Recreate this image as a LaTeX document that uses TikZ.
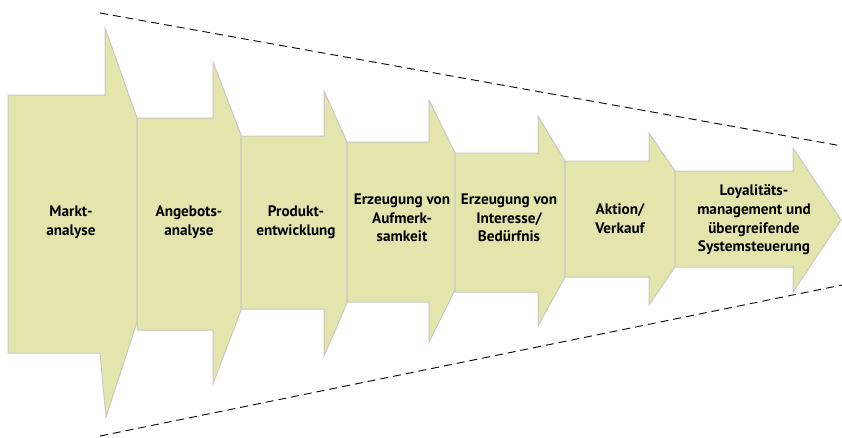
\documentclass[tikz,border=0pt]{standalone}
\usepackage{fontspec}
\setmainfont{PT Sans}
\begin{document}
\begin{tikzpicture}[x=1pt,y=-1pt,
  arrowshape/.style={fill=arrowfill,draw=arrowedge,line width=1pt,line join=miter},
  lbl/.style={font=\bfseries\fontsize{15.2}{18.7}\selectfont,align=center,text=black,inner sep=0pt},
  funnel/.style={draw=black,line width=0.9pt,dash pattern=on 8pt off 5pt}]
\definecolor{arrowfill}{HTML}{E3E5AD}
\definecolor{arrowedge}{HTML}{C9C9C4}
\useasboundingbox (0,0) rectangle (842,437);
% arrows: L,Tb,Bb,S,Ht,Hb,R,Rt,Rb
\draw[arrowshape] (8,95) -- (105,95) -- (105,28) -- (137,118) -- (137,322) -- (106,417) -- (100,353) -- (8,353) -- cycle;
\draw[arrowshape] (137,118) -- (213,118) -- (213,62) -- (241,135) -- (241,310) -- (213,384) -- (213,330) -- (137,330) -- cycle;
\draw[arrowshape] (241,136) -- (324,136) -- (324,91) -- (347,142) -- (347,303) -- (324,356) -- (324,309) -- (241,309) -- cycle;
\draw[arrowshape] (347,142) -- (429,142) -- (429,100) -- (455,153) -- (455,290) -- (429,342) -- (429,302) -- (347,302) -- cycle;
\draw[arrowshape] (455,153) -- (538,153) -- (538,116) -- (565,161) -- (565,277) -- (538,326) -- (538,292) -- (455,292) -- cycle;
\draw[arrowshape] (565,161) -- (649,161) -- (649,133) -- (675,171) -- (675,267) -- (649,305) -- (649,277) -- (565,277) -- cycle;
\draw[arrowshape] (675,171) -- (793,171) -- (793,148) -- (841,220) -- (793,292) -- (793,267) -- (675,267) -- cycle;
% labels
\node[lbl] (a1) at (71,222) {Markt-\\analyse};
\node[lbl] (a2) at (189,222) {Angebots-\\analyse};
\node[lbl] (a3) at (296,222) {Produkt-\\entwicklung};
\node[lbl] (a4) at (402,218) {Erzeugung von\\Aufmerk-\\samkeit};
\node[lbl] (a5) at (509,218) {Erzeugung von\\Interesse/\\Bedürfnis};
\node[lbl] (a6) at (620,219) {Aktion/\\Verkauf};
\node[lbl] (a7) at (754,220) {Loyalitäts-\\management und\\übergreifende\\Systemsteuerung};
% funnel lines
\coordinate (ftl) at (100,13);
\coordinate (ftr) at (842,146);
\coordinate (fbl) at (100,436);
\coordinate (fbr) at (842,285);
\draw[funnel] (ftl) -- (ftr);
\draw[funnel] (fbl) -- (fbr);
\end{tikzpicture}
\end{document}
